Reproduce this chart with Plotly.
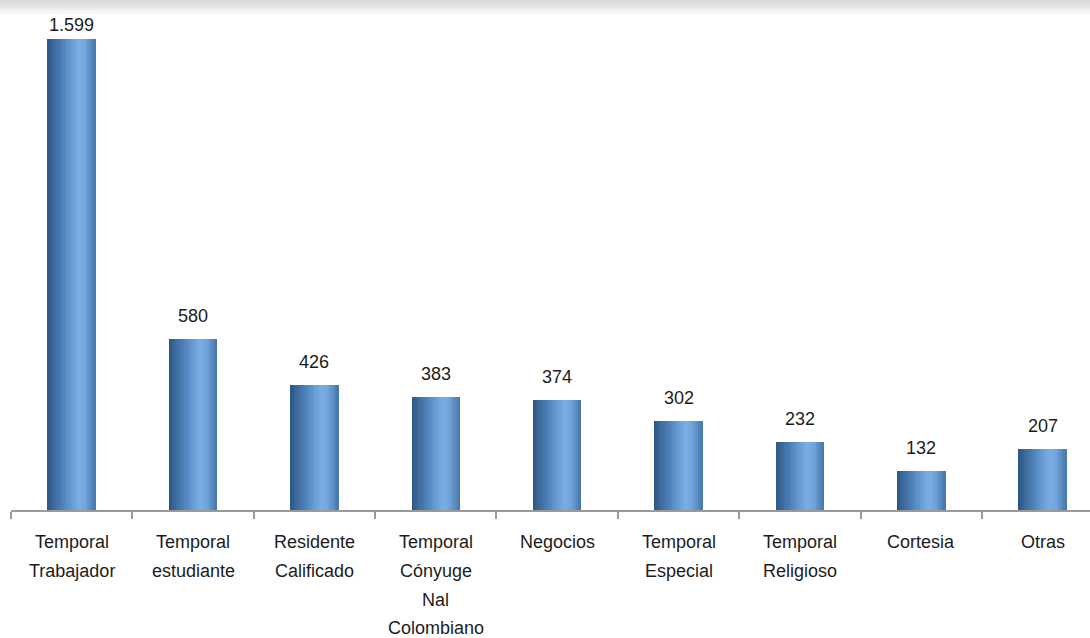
import plotly.graph_objects as go

categories = ["Temporal Trabajador", "Temporal estudiante", "Residente Calificado",
              "Temporal Cónyuge Nal Colombiano", "Negocios", "Temporal Especial",
              "Temporal Religioso", "Cortesia", "Otras"]
label_lines = [["Temporal", "Trabajador"], ["Temporal", "estudiante"], ["Residente", "Calificado"],
               ["Temporal", "Cónyuge", "Nal", "Colombiano"], ["Negocios"], ["Temporal", "Especial"],
               ["Temporal", "Religioso"], ["Cortesia"], ["Otras"]]
values = [1599, 580, 426, 383, 374, 302, 232, 132, 207]

FONT = "Liberation Sans, Arial, sans-serif"
TXT = "#1c1c1c"

# horizontal gradient for cylinder-like bars
stops = [(0.0, (44, 86, 132)), (0.12, (58, 104, 152)), (0.3, (78, 128, 184)),
         (0.5, (104, 156, 212)), (0.65, (122, 174, 228)), (0.78, (112, 164, 218)),
         (0.9, (88, 138, 192)), (1.0, (70, 118, 170))]


def grad(t):
    for (a, ca), (b, cb) in zip(stops[:-1], stops[1:]):
        if a <= t <= b:
            f = (t - a) / (b - a) if b > a else 0
            c = [round(ca[i] + (cb[i] - ca[i]) * f) for i in range(3)]
            return "rgb(%d,%d,%d)" % tuple(c)
    return "rgb(%d,%d,%d)" % stops[-1][1]


fig = go.Figure()
W = 0.40
N = 28
s = W / N
for k in range(N):
    wk = min(s * 1.7, W - k * s)
    fig.add_trace(go.Bar(
        x=categories, y=values, width=wk, offset=-W / 2 + k * s,
        marker=dict(color=grad((k + 0.5) / N), line=dict(width=0)),
        hoverinfo="skip", showlegend=False,
    ))

annotations = []
vmax = max(values)
for c, v in zip(categories, values):
    annotations.append(dict(
        x=c, y=v, xref="x", yref="y", text=f"{v:,}".replace(",", "."),
        showarrow=False, yanchor="middle", yshift=(14 if v == vmax else 23),
        font=dict(family=FONT, size=18, color=TXT)))
for c, lines in zip(categories, label_lines):
    for i, ln in enumerate(lines):
        annotations.append(dict(
            x=c, y=0, xref="x", yref="paper", text=ln, showarrow=False,
            yanchor="middle", yshift=-(32 + i * 28.8),
            font=dict(family=FONT, size=18, color=TXT)))

shapes = []
# gray gradient band at top of the page
PLOT_H = 510
for i in range(16):
    g = round(218 + (255 - 218) * (i / 15) ** 1.2)
    shapes.append(dict(type="rect", xref="paper", yref="paper",
                       x0=-0.02, x1=1.02, y0=1 - (i + 1) / PLOT_H, y1=1 - i / PLOT_H,
                       line=dict(width=0), fillcolor="rgb(%d,%d,%d)" % (g, g, g), layer="below"))

fig.update_layout(
    width=1090, height=638,
    margin=dict(l=11, r=0, t=0, b=128),
    barmode="overlay", bargap=0,
    plot_bgcolor="white", paper_bgcolor="white",
    annotations=annotations, shapes=shapes,
    xaxis=dict(type="category", range=[-0.5, 8.39], showticklabels=False,
               showline=True, linecolor="#9a9a9a", linewidth=2,
               ticks="outside", tickson="boundaries", ticklen=7, tickcolor="#9a9a9a",
               tickwidth=2, showgrid=False, zeroline=False, fixedrange=True),
    yaxis=dict(range=[0, 1733], visible=False, showgrid=False, zeroline=False),
)

fig.write_html("out.html", config={"displayModeBar": False},
               post_script="document.body.style.margin='0px';document.body.style.overflow='hidden';")
